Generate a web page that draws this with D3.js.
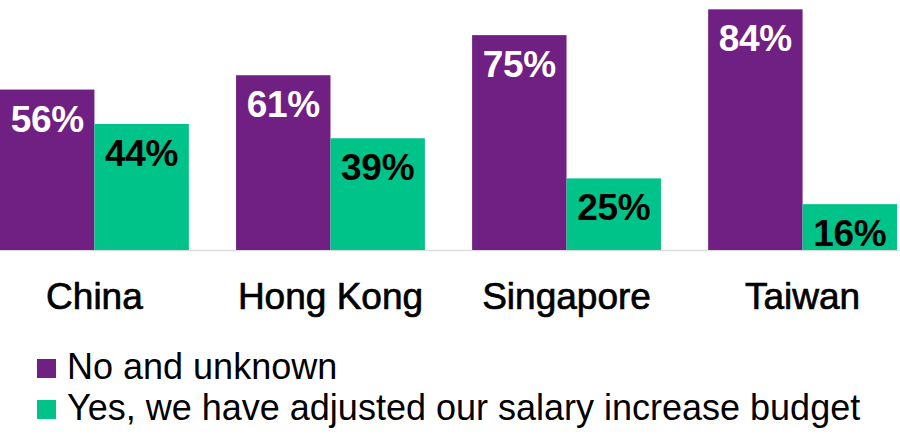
<!DOCTYPE html>
<html>
<head>
<meta charset="utf-8">
<script src="https://cdn.jsdelivr.net/npm/d3@7"></script>
<style>
  body { margin: 0; background: #fff; }
  text { font-family: "Liberation Sans", Arial, Helvetica, sans-serif; }
</style>
</head>
<body>
<div id="chart"></div>
<script>
var categories = ["China", "Hong Kong", "Singapore", "Taiwan"];
var series_names = ["No and unknown", "Yes, we have adjusted our salary increase budget"];
var no_unknown = [56, 61, 75, 84];
var yes_adjusted = [44, 39, 25, 16];

var width = 900;
var height = 440;
var base_y = 250;

var colors = ["#702082", "#00c389"];
var label_colors = ["#ffffff", "#000000"];

var svg = d3.select("#chart").append("svg")
			.attr("width", width)
			.attr("height", height);

var x0 = d3.scaleBand()
		   .domain(categories)
		   .range([0, 897])
		   .paddingInner(0.2)
		   .paddingOuter(0);

var x1 = d3.scaleBand()
		   .domain([0, 1])
		   .range([0, x0.bandwidth()]);

var y = d3.scaleLinear()
		  .domain([0, 100])
		  .range([base_y, base_y - 286.5]);

var rows = [];
for (i = 0; i < categories.length; i++) {
	rows.push({cat: categories[i], s: 0, v: no_unknown[i]});
	rows.push({cat: categories[i], s: 1, v: yes_adjusted[i]});
}

// baseline
svg.append("line")
   .attr("x1", 0)
   .attr("x2", width)
   .attr("y1", base_y + 0.5)
   .attr("y2", base_y + 0.5)
   .attr("stroke", "#dcdcdc")
   .attr("stroke-width", 1.5);

var bars = svg.append("g");

bars.selectAll("rect")
	.data(rows)
	.enter()
	.append("rect")
	.attr("x", function(d){ return x0(d.cat) + x1(d.s); })
	.attr("y", function(d){ return y(d.v); })
	.attr("width", x1.bandwidth())
	.attr("height", function(d){ return y(0) - y(d.v); })
	.attr("fill", function(d){ return colors[d.s]; });

bars.selectAll("text")
	.data(rows)
	.enter()
	.append("text")
	.attr("x", function(d){ return x0(d.cat) + x1(d.s) + x1.bandwidth()/2; })
	.attr("y", function(d){ return y(d.v) + 42; })
	.attr("text-anchor", "middle")
	.attr("font-size", "37px")
	.attr("font-weight", "bold")
	.attr("letter-spacing", "-0.3px")
	.attr("fill", function(d){ return label_colors[d.s]; })
	.text(function(d){ return d.v + "%"; });

// category axis
var x_axis = svg.append("g")
				.attr("transform", "translate(0," + base_y + ")")
				.call(d3.axisBottom(x0).tickSize(0).tickPadding(0));

x_axis.select(".domain").remove();
x_axis.selectAll("text")
	  .attr("dy", null)
	  .attr("y", 59)
	  .attr("font-size", "37px")
	  .attr("font-family", "\"Liberation Sans\", Arial, sans-serif")
	  .attr("fill", "#000")
	  .attr("stroke", "#000")
	  .attr("stroke-width", 0.7);

// legend
var legend = svg.append("g");

var items = legend.selectAll("g")
				  .data(series_names)
				  .enter()
				  .append("g")
				  .attr("transform", function(d, i){ return "translate(37," + (359 + i*41) + ")"; });

items.append("rect")
	 .attr("width", 19)
	 .attr("height", 19)
	 .attr("fill", function(d, i){ return colors[i]; });

items.append("text")
	 .attr("x", 30)
	 .attr("y", 19.5)
	 .attr("font-size", "36px")
	 .attr("fill", "#000")
	 .text(function(d){ return d; });
</script>
</body>
</html>
